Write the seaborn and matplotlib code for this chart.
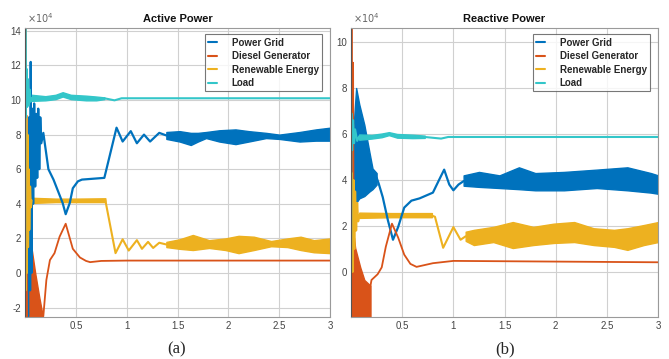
import numpy as np
import pandas as pd
import matplotlib
matplotlib.use("Agg")
import matplotlib.pyplot as plt
import seaborn as sns
from matplotlib.lines import Line2D

# ---------------- data (units of 1e4) ----------------
series_names = ["Power Grid", "Diesel Generator", "Renewable Energy", "Load"]
colors = ["#0072BD", "#D95319", "#EDB120", "#33C6C9"]
x_ticks = [0.5, 1, 1.5, 2, 2.5, 3]
x_tick_labels = ["0.5", "1", "1.5", "2", "2.5", "3"]
y_ticks_a = [-2, 0, 2, 4, 6, 8, 10, 12, 14]
y_ticks_b = [0, 2, 4, 6, 8, 10]

# --- (a) Active power ---
grid_a_t = [0, 0.005, 0.012, 0.02, 0.03, 0.04, 0.05, 0.056, 0.063, 0.07, 0.08, 0.09, 0.10, 0.11, 0.12,
            0.13, 0.14, 0.15, 0.16, 0.18, 0.23, 0.28, 0.32, 0.37, 0.40, 0.44, 0.47, 0.52, 0.56, 0.67,
            0.78, 0.90, 0.96, 1.04, 1.10, 1.17, 1.23, 1.32, 1.39]
grid_a_v = [0, 9, -2.5, 7, -2.5, 9, -1, 12.2, 0, 9.5, 4, 9.8, 5, 9.2, 5.5,
            9.5, 6, 9.0, 7.5, 8.1, 6.0, 5.4, 4.8, 4.05, 3.4, 4.05, 4.9, 5.3, 5.4, 5.45,
            5.5, 8.4, 7.6, 8.2, 7.5, 8.0, 7.6, 8.1, 7.95]
grid_a_band_t = [1.39, 1.52, 1.63, 1.70, 1.78, 1.91, 2.07, 2.2, 2.37, 2.5, 2.7, 2.86, 3.0]
grid_a_band_hi = [8.15, 8.2, 8.1, 8.1, 8.15, 8.25, 8.3, 8.2, 8.1, 8.0, 8.15, 8.3, 8.4]
grid_a_band_lo = [7.75, 7.6, 7.4, 7.6, 7.8, 7.6, 7.45, 7.6, 7.8, 7.75, 7.6, 7.65, 7.65]

diesel_a_t1 = [0, 0.004, 0.008, 0.014, 0.02]
diesel_a_v1 = [0, 14.2, -2.5, 9.1, -2.5]
diesel_a_fill_t = [0.02, 0.03, 0.07, 0.10, 0.14, 0.175]
diesel_a_fill_hi = [2.7, 2.7, 1.2, 0.0, -1.4, -2.5]
diesel_a_fill_lo = [-2.6, -2.6, -2.6, -2.6, -2.6, -2.6]
diesel_a_t2 = [0.175, 0.18, 0.21, 0.245, 0.29, 0.34, 0.40, 0.47, 0.54, 0.60, 0.64, 0.75, 1.0, 3.0]
diesel_a_v2 = [-2.5, -2.5, -0.4, 0.75, 1.15, 2.1, 2.85, 1.4, 0.9, 0.7, 0.63, 0.7, 0.72, 0.72]

renew_a_t1 = [0, 0.006, 0.012, 0.018, 0.024, 0.03, 0.036, 0.042, 0.05, 0.058, 0.065]
renew_a_v1 = [0, -1, 9.1, 0, 8, 1.5, 6, 2.5, 5, 3.8, 4.2]
renew_a_band1_t = [0.065, 0.3, 0.5, 0.79]
renew_a_band1_hi = [4.35, 4.3, 4.3, 4.32]
renew_a_band1_lo = [4.05, 4.1, 4.1, 4.1]
renew_a_t2 = [0.79, 0.89, 0.96, 1.02, 1.10, 1.15, 1.21, 1.26, 1.32, 1.39]
renew_a_v2 = [4.2, 1.15, 1.95, 1.3, 1.9, 1.4, 1.8, 1.45, 1.75, 1.65]
renew_a_band2_t = [1.39, 1.52, 1.65, 1.81, 1.97, 2.1, 2.25, 2.42, 2.58, 2.71, 2.84, 3.0]
renew_a_band2_hi = [1.8, 1.95, 2.2, 1.9, 2.0, 2.15, 2.1, 1.85, 2.0, 2.1, 1.9, 2.0]
renew_a_band2_lo = [1.5, 1.4, 1.33, 1.45, 1.33, 1.15, 1.33, 1.55, 1.5, 1.33, 1.2, 1.15]

load_a_t1 = [0, 0.003, 0.008, 0.015, 0.022, 0.03, 0.038, 0.046, 0.055, 0.065]
load_a_v1 = [0, 14.2, 9.0, 11.8, 9.6, 11.2, 9.7, 10.6, 9.9, 10.1]
load_a_band_t = [0.065, 0.2, 0.3, 0.37, 0.45, 0.6, 0.7, 0.78]
load_a_band_hi = [10.3, 10.22, 10.3, 10.45, 10.3, 10.25, 10.2, 10.15]
load_a_band_lo = [9.95, 9.98, 10.05, 10.2, 10.05, 9.98, 9.98, 10.05]
load_a_t2 = [0.78, 0.88, 0.95, 3.0]
load_a_v2 = [10.1, 9.98, 10.1, 10.1]

# --- (b) Reactive power ---
grid_b_t1 = [0, 0.004, 0.01, 0.02]
grid_b_v1 = [0, -2, 5, 3]
grid_b_fill_t = [0.02, 0.05, 0.08, 0.13, 0.18, 0.21, 0.25]
grid_b_fill_hi = [6.0, 8.0, 7.3, 6.4, 5.2, 4.5, 4.3]
grid_b_fill_lo = [2.9, 3.0, 3.2, 3.3, 3.5, 3.6, 3.8]
grid_b_t2 = [0.25, 0.27, 0.31, 0.36, 0.41, 0.46, 0.52, 0.59, 0.67, 0.80, 0.86, 0.91, 0.96, 1.0, 1.05, 1.1]
grid_b_v2 = [4.1, 3.85, 3.25, 2.25, 1.4, 1.95, 2.8, 3.1, 3.2, 3.45, 4.0, 4.45, 3.8, 3.55, 3.8, 3.95]
grid_b_band_t = [1.1, 1.25, 1.45, 1.64, 1.8, 2.08, 2.4, 2.7, 2.93, 3.0]
grid_b_band_hi = [4.2, 4.35, 4.2, 4.55, 4.3, 4.35, 4.45, 4.55, 4.3, 4.2]
grid_b_band_lo = [3.75, 3.7, 3.65, 3.6, 3.55, 3.55, 3.65, 3.55, 3.45, 3.4]

diesel_b_t1 = [0, 0.005, 0.012, 0.02, 0.028]
diesel_b_v1 = [0, 10.6, -2, 9.1, -2]
diesel_b_fill_t = [0.028, 0.04, 0.09, 0.13, 0.19]
diesel_b_fill_hi = [1.5, 1.05, 0.2, -0.35, -0.6]
diesel_b_fill_lo = [-2.1, -2.1, -2.1, -2.1, -2.1]
diesel_b_t2 = [0.19, 0.2, 0.26, 0.30, 0.34, 0.40, 0.46, 0.52, 0.58, 0.64, 0.8, 1.0, 3.0]
diesel_b_v2 = [-0.6, -0.35, -0.1, 0.2, 1.1, 2.1, 1.5, 0.75, 0.35, 0.22, 0.38, 0.48, 0.42]

renew_b_t1 = [0, 0.008, 0.016, 0.024, 0.032, 0.04, 0.05, 0.06, 0.07, 0.08]
renew_b_v1 = [0, 4.3, 0, 4.0, 1.0, 3.5, 1.8, 3.0, 2.2, 2.45]
renew_b_band1_t = [0.08, 0.4, 0.79]
renew_b_band1_hi = [2.58, 2.56, 2.56]
renew_b_band1_lo = [2.35, 2.38, 2.38]
renew_b_t2 = [0.79, 0.82, 0.9, 1.0, 1.07, 1.12]
renew_b_v2 = [2.45, 2.4, 1.05, 1.95, 1.4, 1.55]
renew_b_band2_t = [1.12, 1.2, 1.39, 1.58, 1.78, 1.98, 2.18, 2.37, 2.57, 2.7, 2.86, 3.0]
renew_b_band2_hi = [1.75, 1.83, 1.96, 2.17, 1.96, 2.1, 2.17, 1.9, 1.83, 1.9, 2.04, 2.17]
renew_b_band2_lo = [1.35, 1.17, 1.3, 1.04, 1.17, 1.26, 1.3, 1.17, 1.09, 0.96, 1.17, 1.3]

load_b_t1 = [0, 0.003, 0.01, 0.02, 0.03, 0.04, 0.06, 0.08]
load_b_v1 = [0, 6.9, 5.3, 6.6, 5.6, 6.2, 5.7, 5.9]
load_b_band_t = [0.08, 0.2, 0.3, 0.37, 0.45, 0.6, 0.72]
load_b_band_hi = [5.98, 5.96, 6.02, 6.08, 6.0, 5.97, 5.93]
load_b_band_lo = [5.75, 5.8, 5.86, 5.95, 5.84, 5.82, 5.83]
load_b_t2 = [0.72, 0.88, 0.95, 3.0]
load_b_v2 = [5.87, 5.8, 5.87, 5.87]

# ---------------- drawing ----------------
sns.set_theme(style="white")
plt.rcParams["font.family"] = ["Liberation Sans", "DejaVu Sans"]

fig = plt.figure(figsize=(6.69, 3.59), dpi=100)
ax_a = fig.add_axes([0.0374, 0.117, 0.456, 0.805])
ax_b = fig.add_axes([0.5247, 0.117, 0.459, 0.805])

line_widths = {colors[0]: 1.6, colors[1]: 1.3, colors[2]: 1.5, colors[3]: 1.5}


def line(ax, t, v, color):
    sns.lineplot(x=t, y=v, ax=ax, color=color, lw=line_widths[color], sort=False,
                 estimator=None, legend=False)


def band(ax, t, lo, hi, color):
    ax.fill_between(t, lo, hi, color=color, lw=1.0, edgecolor=color)


def draw_panel(ax, parts):
    for kind, args, c in parts:
        if kind == "line":
            line(ax, *args, c)
        else:
            band(ax, *args, c)


parts_a = [
    ("line", (grid_a_t, grid_a_v), colors[0]),
    ("band", (grid_a_band_t, grid_a_band_lo, grid_a_band_hi), colors[0]),
    ("line", (diesel_a_t1, diesel_a_v1), colors[1]),
    ("band", (diesel_a_fill_t, diesel_a_fill_lo, diesel_a_fill_hi), colors[1]),
    ("line", (diesel_a_t2, diesel_a_v2), colors[1]),
    ("line", (renew_a_t1, renew_a_v1), colors[2]),
    ("band", (renew_a_band1_t, renew_a_band1_lo, renew_a_band1_hi), colors[2]),
    ("line", (renew_a_t2, renew_a_v2), colors[2]),
    ("band", (renew_a_band2_t, renew_a_band2_lo, renew_a_band2_hi), colors[2]),
    ("line", (load_a_t1, load_a_v1), colors[3]),
    ("band", (load_a_band_t, load_a_band_lo, load_a_band_hi), colors[3]),
    ("line", (load_a_t2, load_a_v2), colors[3]),
]
parts_b = [
    ("line", (grid_b_t1, grid_b_v1), colors[0]),
    ("band", (grid_b_fill_t, grid_b_fill_lo, grid_b_fill_hi), colors[0]),
    ("line", (grid_b_t2, grid_b_v2), colors[0]),
    ("band", (grid_b_band_t, grid_b_band_lo, grid_b_band_hi), colors[0]),
    ("line", (diesel_b_t1, diesel_b_v1), colors[1]),
    ("band", (diesel_b_fill_t, diesel_b_fill_lo, diesel_b_fill_hi), colors[1]),
    ("line", (diesel_b_t2, diesel_b_v2), colors[1]),
    ("line", (renew_b_t1, renew_b_v1), colors[2]),
    ("band", (renew_b_band1_t, renew_b_band1_lo, renew_b_band1_hi), colors[2]),
    ("line", (renew_b_t2, renew_b_v2), colors[2]),
    ("band", (renew_b_band2_t, renew_b_band2_lo, renew_b_band2_hi), colors[2]),
    ("line", (load_b_t1, load_b_v1), colors[3]),
    ("band", (load_b_band_t, load_b_band_lo, load_b_band_hi), colors[3]),
    ("line", (load_b_t2, load_b_v2), colors[3]),
]

draw_panel(ax_a, parts_a)
draw_panel(ax_b, parts_b)

ax_a.set_xlim(0, 3)
ax_a.set_ylim(-2.54, 14.16)
ax_b.set_xlim(0, 3)
ax_b.set_ylim(-1.96, 10.61)

for ax, yt, title in [(ax_a, y_ticks_a, "Active Power"), (ax_b, y_ticks_b, "Reactive Power")]:
    ax.set_xticks(x_ticks)
    ax.set_xticklabels(x_tick_labels)
    ax.set_yticks(yt)
    ax.set_yticklabels([str(v) for v in yt])
    ax.grid(True, color="#d0d0d0", lw=0.8)
    ax.set_axisbelow(True)
    ax.tick_params(direction="in", labelsize=7, colors="#444444", length=3, pad=3)
    for s in ax.spines.values():
        s.set_color("#9a9a9a")
        s.set_linewidth(0.8)
    ax.spines["left"].set_color("#555555")
    ax.set_xlabel("")
    ax.set_ylabel("")
    ax.set_title(title, fontsize=8, fontweight="bold", pad=4, color="#111111")
    handles = [Line2D([], [], color=c, lw=1.5) for c in colors]
    leg = ax.legend(handles, series_names, loc="upper right",
                    prop={"weight": "bold", "size": 7}, handlelength=0.9,
                    handletextpad=1.5, labelspacing=0.35, borderpad=0.35,
                    frameon=True, fancybox=False, bbox_to_anchor=(0.99, 0.995))
    leg.get_frame().set_edgecolor("#555555")
    leg.get_frame().set_linewidth(0.8)
    ax.text(0.005, 1.01, r"$\times10^4$", transform=ax.transAxes, fontsize=7,
            color="#666666", ha="left", va="bottom")

fig.text(177 / 669, 1 - 349 / 359, "(a)", fontsize=12, family="Liberation Serif",
         ha="center", va="center")
fig.text(505 / 669, 1 - 349 / 359, "(b)", fontsize=12, family="Liberation Serif",
         ha="center", va="center")

fig.savefig("out.png", dpi=100)
